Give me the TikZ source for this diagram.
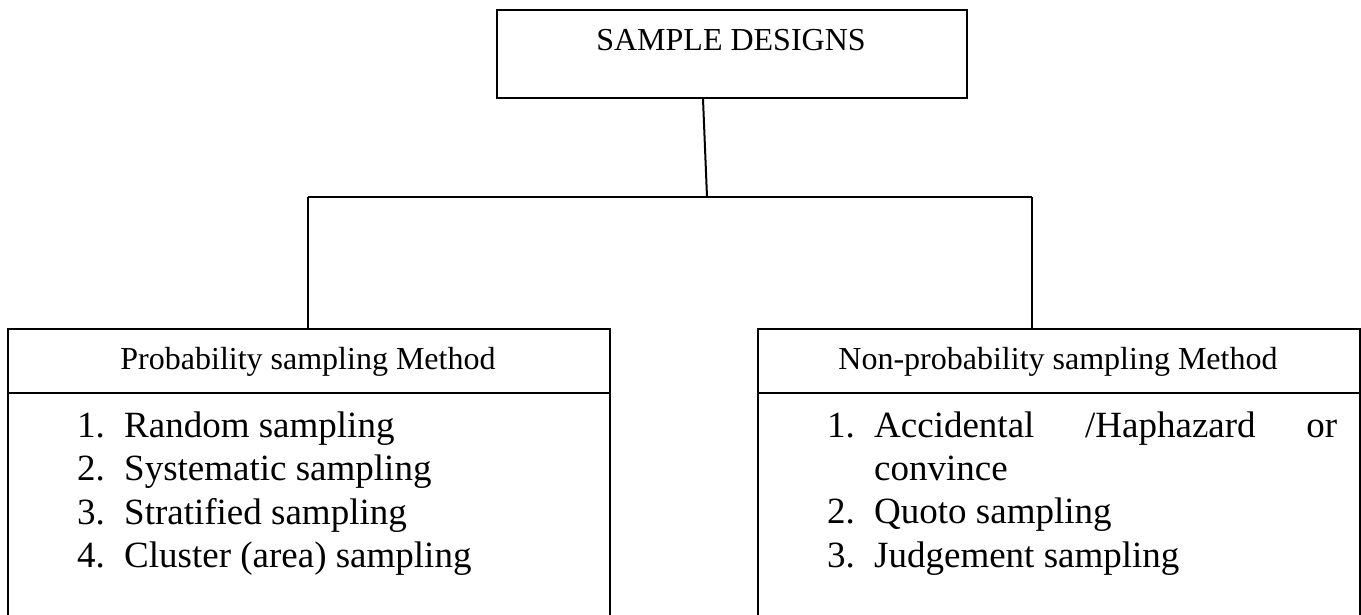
\documentclass[tikz,border=0pt]{standalone}
\usepackage{fontspec}
\setmainfont{Liberation Serif}
\begin{document}
\begin{tikzpicture}[x=1pt,y=-1pt,
  box/.style={draw,line width=2pt,inner sep=0pt,anchor=north west},
  conn/.style={line width=2pt},
  head/.style={font=\fontsize{32}{38}\selectfont,inner sep=0pt,anchor=base},
  item/.style={font=\fontsize{37}{43}\selectfont,inner sep=0pt,anchor=base west}]
\useasboundingbox (0,0) rectangle (1361,614);
\clip (0,0) rectangle (1361,614);
% top box
\node[box,minimum width=470pt,minimum height=88pt] (top) at (496,9) {};
\node[head] (toptext) at (731,50) {SAMPLE DESIGNS};
% junctions
\coordinate (jm) at (707,197);
\coordinate (jl) at (308,197);
\coordinate (jr) at (1032,197);
% lower boxes
\node[box,minimum width=602pt,minimum height=400pt] (pbox) at (7,328) {};
\node[box,minimum width=602pt,minimum height=400pt] (nbox) at (757,328) {};
\draw[conn] (pbox.west |- 0,393) -- (pbox.east |- 0,393);
\draw[conn] (nbox.west |- 0,393) -- (nbox.east |- 0,393);
% connectors
\draw[conn] (top.south -| 703,0) -- (jm);
\draw[conn] (jl) -- (jr);
\draw[conn] (jl) -- (pbox.north -| jl);
\draw[conn] (jr) -- (nbox.north -| jr);
% headers
\node[head] (ph) at (308,369) {Probability sampling Method};
\node[head] (nh) at (1058,369) {Non-probability sampling Method};
% left list
\node[item] (p1) at (77,437) {\makebox[47pt][l]{1.}Random sampling};
\node[item] (p2) at (77,480) {\makebox[47pt][l]{2.}Systematic sampling};
\node[item] (p3) at (77,524) {\makebox[47pt][l]{3.}Stratified sampling};
\node[item] (p4) at (77,567) {\makebox[47pt][l]{4.}Cluster (area) sampling};
% right list
\node[item] (n1) at (827,437) {\makebox[47pt][l]{1.}\hbox to 463pt{Accidental\hfill/Haphazard\hfill or}};
\node[item] (n1b) at (874,480) {convince};
\node[item] (n2) at (827,523) {\makebox[47pt][l]{2.}Quoto sampling};
\node[item] (n3) at (827,567) {\makebox[47pt][l]{3.}Judgement sampling};
\end{tikzpicture}
\end{document}
